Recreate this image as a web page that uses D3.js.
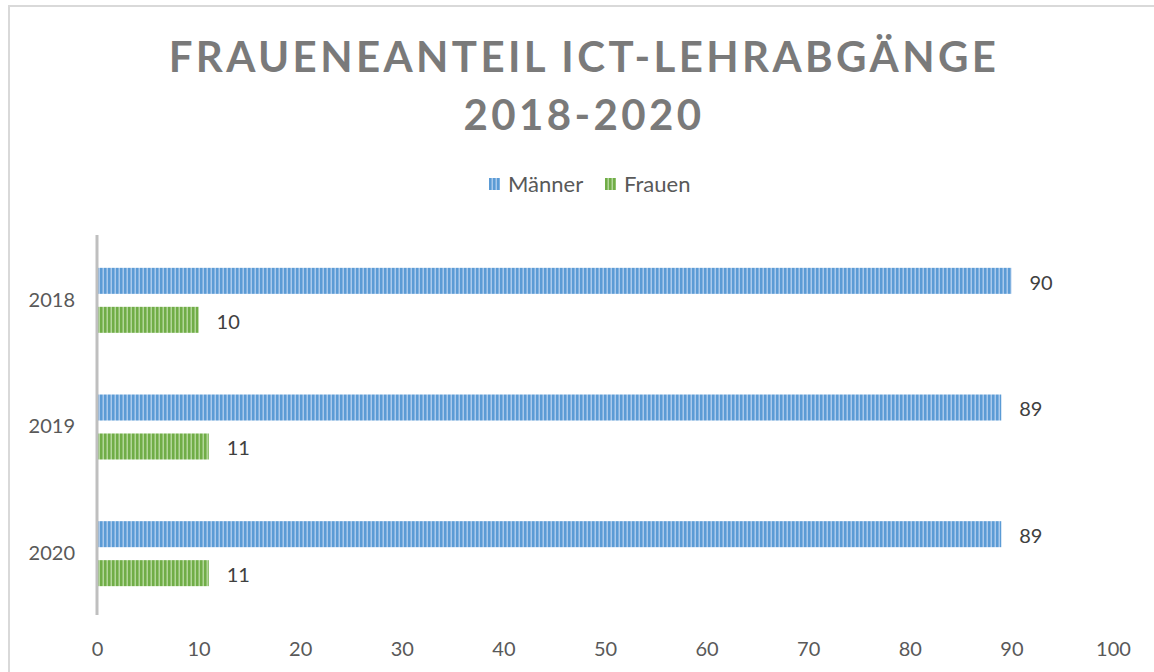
<!DOCTYPE html>
<html>
<head>
<meta charset="utf-8">
<script src="https://cdn.jsdelivr.net/npm/d3@7"></script>
<style>
  body { margin: 0; background: #fff; }
  text { font-family: Lato, "Open Sans", sans-serif; }
</style>
</head>
<body>
<div id="chartDiv"></div>
<script>
// data
var years = ["2018", "2019", "2020"];
var series = ["Männer", "Frauen"];
var maenner = [90, 89, 89];
var frauen = [10, 11, 11];
var xTicks = [0, 10, 20, 30, 40, 50, 60, 70, 80, 90, 100];
var titleLines = ["FRAUENEANTEIL ICT-LEHRABGÄNGE", "2018-2020"];

var width = 1154, height = 672;
var colors = {
  "Männer": ["#5b9bd5", "#a9c9ec"],
  "Frauen": ["#70ad47", "#b2d699"]
};

var svg = d3.select("#chartDiv")
  .append("svg")
    .attr("width", width)
    .attr("height", height)

// stripe patterns
var defs = svg.append("defs");
series.forEach(function(s, i) {
  var p = defs.append("pattern")
    .attr("id", "pat" + i)
    .attr("patternUnits", "userSpaceOnUse")
    .attr("width", 4)
    .attr("height", 4)
  p.append("rect").attr("width", 4).attr("height", 4).attr("fill", colors[s][0])
  p.append("rect").attr("x", 2.5).attr("width", 1.5).attr("height", 4).attr("fill", colors[s][1])
})

// outer border
svg.append("path")
  .attr("d", "M9,672 V6 H1154")
  .attr("fill", "none")
  .attr("stroke", "#d9d9d9")
  .attr("stroke-width", 2)

// title
svg.append("g").selectAll("text")
  .data(titleLines)
  .enter().append("text")
    .attr("x", 584)
    .attr("y", function(d, i) { return 72 + i * 58; })
    .attr("text-anchor", "middle")
    .attr("font-size", 42)
    .attr("font-weight", "bold")
    .attr("letter-spacing", 3.4)
    .attr("fill", "#7a7a7a")
    .text(function(d) { return d; })

// scales
var xScale = d3.scaleLinear()
  .domain([0, 100])
  .range([97, 1113]);

var yScale = d3.scaleBand()
  .domain(years)
  .range([237, 617])
  .paddingInner(0.487)
  .paddingOuter(0.2435);

var ySub = d3.scaleBand()
  .domain(series)
  .range([0, yScale.bandwidth()])
  .paddingInner(0.333);

// x axis labels
var xAxis = svg.append("g")
  .attr("transform", "translate(0,615)")
  .call(d3.axisBottom(xScale).tickValues(xTicks).tickSize(0).tickPadding(27))
xAxis.select(".domain").remove()
xAxis.selectAll("text")
  .attr("font-size", 20)
  .attr("fill", "#595959")
  .attr("font-family", "Lato, 'Open Sans', sans-serif")

// y axis labels
var yAxis = svg.append("g")
  .attr("transform", "translate(97,0)")
  .call(d3.axisLeft(yScale).tickSize(0).tickPadding(22))
yAxis.select(".domain").remove()
yAxis.selectAll("text")
  .attr("font-size", 20)
  .attr("fill", "#595959")
  .attr("font-family", "Lato, 'Open Sans', sans-serif")

// bars
var rows = years.map(function(y, i) {
  return { year: y, values: [ { s: "Männer", v: maenner[i] }, { s: "Frauen", v: frauen[i] } ] };
})

var groups = svg.append("g").selectAll("g")
  .data(rows)
  .enter().append("g")
    .attr("transform", function(d) { return "translate(0," + yScale(d.year) + ")"; })

groups.selectAll("rect")
  .data(function(d) { return d.values; })
  .enter().append("rect")
    .attr("x", xScale(0))
    .attr("y", function(d) { return ySub(d.s); })
    .attr("width", function(d) { return xScale(d.v) - xScale(0); })
    .attr("height", ySub.bandwidth())
    .attr("fill", function(d) { return "url(#pat" + series.indexOf(d.s) + ")"; })

groups.selectAll("text")
  .data(function(d) { return d.values; })
  .enter().append("text")
    .attr("x", function(d) { return xScale(d.v) + 18; })
    .attr("y", function(d) { return ySub(d.s) + ySub.bandwidth() / 2; })
    .attr("dy", "0.45em")
    .attr("font-size", 20)
    .attr("fill", "#404040")
    .text(function(d) { return d.v; })

// vertical axis line
svg.append("line")
  .attr("x1", xScale(0)).attr("x2", xScale(0))
  .attr("y1", 235).attr("y2", 615)
  .attr("stroke", "#bfbfbf")
  .attr("stroke-width", 3)

// legend
var legendX = [489, 605];
var legend = svg.append("g").selectAll("g")
  .data(series)
  .enter().append("g")
    .attr("transform", function(d, i) { return "translate(" + legendX[i] + ",178)"; })
legend.append("rect")
  .attr("width", 11)
  .attr("height", 12)
  .attr("fill", function(d, i) { return "url(#pat" + i + ")"; })
legend.append("text")
  .attr("x", 19)
  .attr("y", 6)
  .attr("dy", "0.38em")
  .attr("font-size", 22)
  .attr("fill", "#595959")
  .text(function(d) { return d; })
</script>
</body>
</html>
